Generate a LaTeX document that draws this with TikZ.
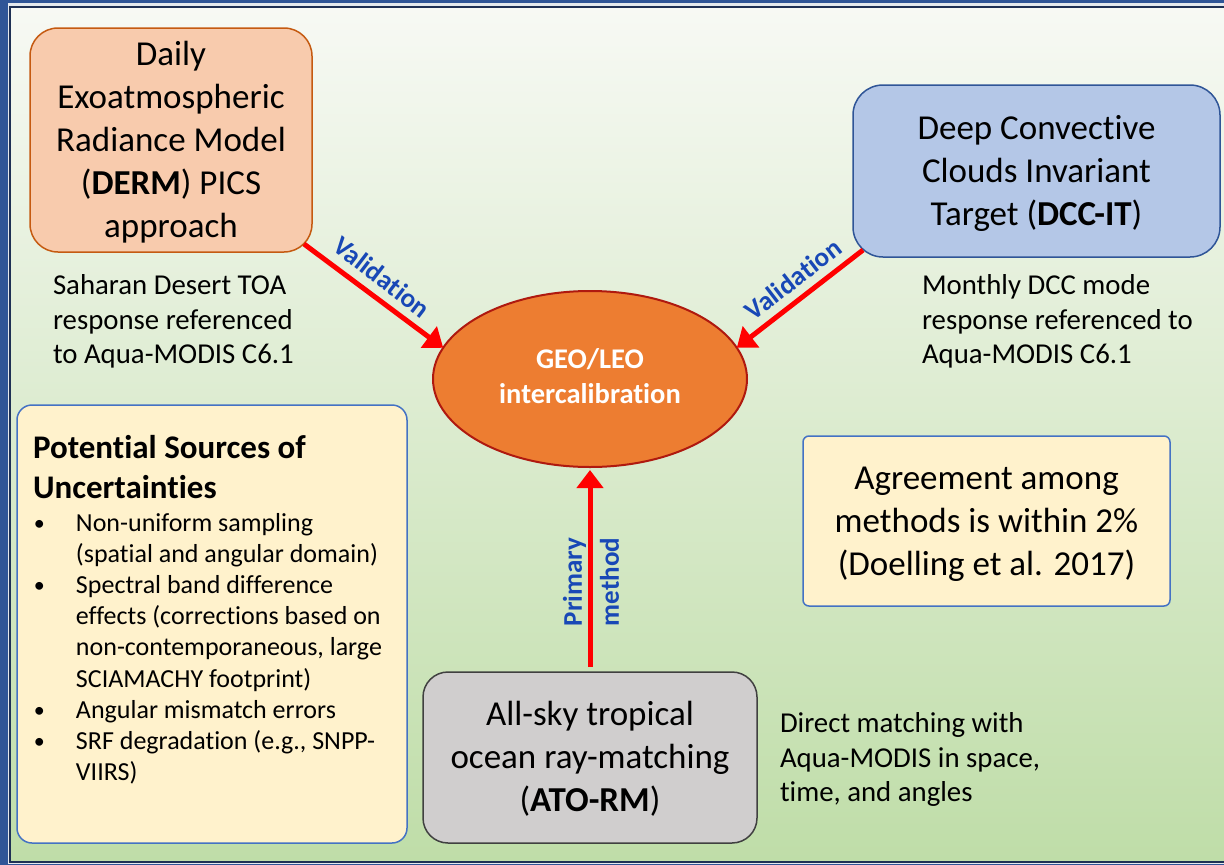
\documentclass[tikz,border=0pt]{standalone}
\usepackage{fontspec}
\setmainfont{Carlito}[Ligatures=NoCommon]
\usetikzlibrary{arrows.meta,shapes.geometric,calc}
\definecolor{frameblue}{RGB}{47,85,151}
\definecolor{framedark}{RGB}{30,48,84}
\definecolor{framegap}{RGB}{228,233,238}
\definecolor{bgtop}{RGB}{247,249,244}
\definecolor{bgbot}{RGB}{191,221,168}
\definecolor{dermfill}{RGB}{248,203,173}
\definecolor{dermline}{RGB}{197,90,17}
\definecolor{dccfill}{RGB}{180,199,231}
\definecolor{dccline}{RGB}{47,85,151}
\definecolor{geofill}{RGB}{237,125,49}
\definecolor{geoline}{RGB}{175,25,15}
\definecolor{atofill}{RGB}{208,206,206}
\definecolor{atoline}{RGB}{64,64,64}
\definecolor{notefill}{RGB}{255,242,204}
\definecolor{noteline}{RGB}{68,114,196}
\definecolor{labelblue}{RGB}{24,72,182}
\newcommand{\topstr}{\rule{0pt}{32pt}}
\newcommand{\botstr}{\rule[-10pt]{0pt}{0pt}}
\newcommand{\bul}{\makebox[43pt][l]{\hspace{1pt}\raisebox{1pt}{\fontsize{22}{22}\selectfont\textbullet}}}
\newcommand{\ind}{\hspace*{43pt}}
\newcommand{\hdr}{\fontsize{33}{40}\selectfont\bfseries}
\begin{document}
\begin{tikzpicture}[x=1pt,y=-1pt,
  box/.style={draw, inner sep=0pt, outer sep=0pt, align=center,
    font=\fontsize{35}{43}\selectfont, line width=1.5pt},
  smalltext/.style={inner sep=0pt, outer sep=0pt, align=left, anchor=north west,
    font=\fontsize{28.8}{34.5}\selectfont},
  arr/.style={draw=red, line width=5pt, -{Triangle[width=26pt,length=18pt]}},
  arrlabel/.style={inner sep=0pt, text=labelblue, font=\bfseries\fontsize{27}{37}\selectfont, align=center}]
\useasboundingbox (0,0) rectangle (1224,865);
% frame and background
\fill[frameblue] (0,0) rectangle (1224,865);
\fill[framegap] (8,3) rectangle (1224,864);
\shade[top color=bgtop, bottom color=bgbot] (10,7) rectangle (1224,862);
\draw[framedark, line width=1.5pt] (1224,7) -- (10,7) -- (10,862) -- (1224,862);

% nodes
\node[box, rounded corners=28pt, fill=dermfill, draw=dermline,
  minimum width=282pt, minimum height=224pt] (derm) at (171,140)
  {\topstr Daily\\Exoatmospheric\\Radiance Model\\(\textbf{DERM}) PICS\\approach\botstr};
\node[box, rounded corners=30pt, fill=dccfill, draw=dccline,
  minimum width=367pt, minimum height=172pt] (dcc) at (1036.5,171)
  {\topstr Deep Convective\\Clouds Invariant\\Target (\textbf{DCC-IT})\botstr};
\node[ellipse, draw=geoline, line width=2pt, fill=geofill, inner sep=0pt, outer sep=0pt,
  minimum width=314pt, minimum height=176pt, text=white, align=center,
  font=\bfseries\fontsize{28.5}{35}\selectfont] (geo) at (590,379)
  {\rule{0pt}{23pt}GEO/LEO\\intercalibration\rule[-10pt]{0pt}{0pt}};
\node[box, rounded corners=25pt, fill=atofill, draw=atoline,
  minimum width=334pt, minimum height=171pt] (ato) at (590,757.5)
  {\topstr All-sky tropical\\ocean ray-matching\\(\textbf{ATO-RM})\botstr};
\node[box, rounded corners=6pt, fill=notefill, draw=noteline,
  minimum width=367pt, minimum height=170pt] (agree) at (986.5,521)
  {\topstr Agreement among\\methods is within 2\%\\(Doelling et al. 2017)\botstr};
\node[box, rounded corners=15pt, fill=notefill, draw=noteline,
  minimum width=390pt, minimum height=438pt] (unc) at (212,624) {};
\node[inner sep=0pt, outer sep=0pt, anchor=north west, align=left,
  font=\fontsize{26}{31.1}\selectfont] (unctext) at (33,430.5)
  {{\hdr\rule{0pt}{28pt}Potential Sources of}\\[8.9pt]
   {\hdr Uncertainties}\\[1.9pt]
   \bul Non-uniform sampling\\
   \ind(spatial and angular domain)\\
   \bul Spectral band difference\\
   \ind effects (corrections based on\\
   \ind non-contemporaneous, large\\
   \ind SCIAMACHY footprint)\\
   \bul Angular mismatch errors\\
   \bul SRF degradation (e.g., SNPP-\\
   \ind VIIRS)};

% side labels
\node[smalltext] (sahara) at (53,270.8)
  {\strut Saharan Desert TOA\\response referenced\\to Aqua-MODIS C6.1};
\node[smalltext] (monthly) at (922,270.8)
  {\strut Monthly DCC mode\\response referenced to\\Aqua-MODIS C6.1};
\node[smalltext] (direct) at (780,708.8)
  {\strut Direct matching with\\Aqua-MODIS in space,\\time, and angles};

% connectors
\draw[arr] ($(derm.south east)+(-8,-8)$) -- (geo.168);
\draw[arr] ($(dcc.south west)+(10,-7)$) -- (geo.12);
\draw[arr, shorten <=5pt, shorten >=3pt] (ato.north) -- (geo.south);

% connector labels
\node[arrlabel, rotate=-37.5] (val1) at (382,277) {Validation};
\node[arrlabel, rotate=37.5] (val2) at (793,279) {Validation};
\node[arrlabel, rotate=90] (prim) at (591,582) {Primary\\method};
\end{tikzpicture}
\end{document}
